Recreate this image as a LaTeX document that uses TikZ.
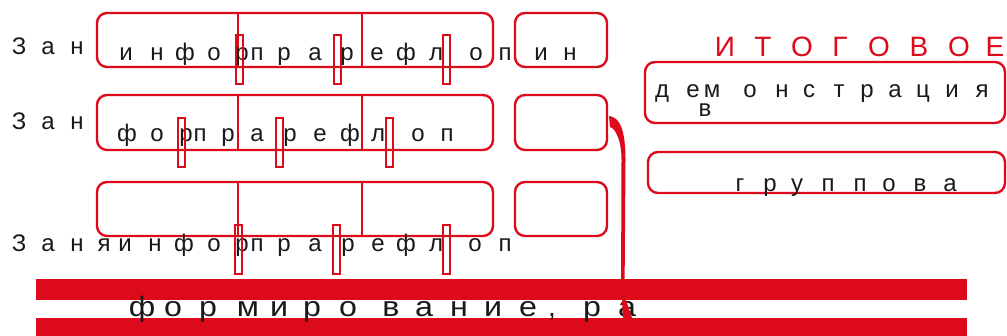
\documentclass[tikz,border=0pt]{standalone}
\usepackage{fontspec}
\usepackage{graphicx}
\usetikzlibrary{calc}
\setmainfont{Liberation Sans}
\definecolor{rd}{RGB}{220,10,26}
\definecolor{ink}{RGB}{25,25,25}
\tikzset{
  box/.style={draw=rd, line width=2.4pt, rounded corners=10pt, inner sep=0pt, outer sep=0pt},
  divl/.style={draw=rd, line width=2pt},
  slot/.style={draw=rd, line width=2pt},
  lt/.style={inner sep=0pt, outer sep=0pt, anchor=base, text=ink, font=\fontsize{24}{24}\selectfont},
  big/.style={lt, font=\fontsize{28}{28}\selectfont},
  ttl/.style={lt, text=rd, font=\fontsize{28}{28}\selectfont},
  bar/.style={fill=rd},
}
\newcommand\letterrow[3]{\foreach \c/\x [count=\i] in {#3} {\node[lt] (#1\i) at (\x,#2) {\c};}}
\newcommand\bigrow[3]{\foreach \c/\x [count=\i] in {#3} {\node[big] (#1\i) at (\x,#2) {\scalebox{1.15}[1]{\c}};}}
\newcommand\ttlrow[3]{\foreach \c/\x [count=\i] in {#3} {\node[ttl] (#1\i) at (\x,#2) {\c};}}
\begin{document}
\begin{tikzpicture}[x=1pt,y=-1pt]
\useasboundingbox (0,0) rectangle (1007,336);
% bars
\fill[bar] (36,279) rectangle (967,300);
\fill[bar] (36,318) rectangle (967,336);
% boxes
\node[box, minimum width=396pt, minimum height=54pt] (b1) at (295,40) {};
\node[box, minimum width=92pt, minimum height=54pt] (s1) at (561,40) {};
\node[box, minimum width=396pt, minimum height=55pt] (b2) at (295,122.5) {};
\node[box, minimum width=92pt, minimum height=55pt] (s2) at (561,122.5) {};
\node[box, minimum width=396pt, minimum height=54pt] (b3) at (295,209) {};
\node[box, minimum width=92pt, minimum height=54pt] (s3) at (561,209) {};
\node[box, minimum width=360pt, minimum height=61pt] (dem) at (825,92.5) {};
\node[box, minimum width=357pt, minimum height=41pt] (grp) at (826.5,172.5) {};
% dividers
\foreach \r in {1,2,3} {
  \draw[divl] (b\r.north -| 238,0) -- (b\r.south -| 238,0);
  \draw[divl] (b\r.north -| 362,0) -- (b\r.south -| 362,0);
}
% texts
\letterrow{za}{55}{З/19,а/48,н/77}
\letterrow{ra}{61}{и/126,н/157,ф/185,о/214,р/242,п/257,р/284,а/315,р/347,е/377,ф/406,л/436,о/476,п/505,и/541,н/570}
\letterrow{zb}{130}{З/19,а/48,н/77}
\letterrow{rb}{142}{ф/127,о/157,р/186,п/200,р/228,а/257,р/290,е/320,ф/350,л/378,о/418,п/447}
\letterrow{rc}{252}{З/19,а/48,н/77,я/104,и/125,н/155,ф/184,о/214,р/242,п/257,р/284,а/315,р/348,е/378,ф/406,л/436,о/475,п/505}
\bigrow{fm}{317}{ф/142,о/173,р/208,м/248,и/279,р/312,о/348,в/391,а/424,н/459,и/493,е/528,р/592,а/627}
\node[big] (fmc) at (552,317) {,};
\ttlrow{it}{57}{И/725,Т/763,О/802,Г/840,О/879,В/919,О/959,Е/995}
\letterrow{dm}{98}{д/662,е/693,м/712,о/750,н/782,с/809,т/839,р/867,а/895,ц/923,и/952,я/982}
\node[lt] (dv) at (705,117) {в};
\letterrow{gr}{192}{г/740,р/770,у/797,п/828,п/860,о/889,в/920,а/950}
% slots
\foreach \x in {236,334,443} {\draw[slot] (\x,35) rectangle ++(6.5,49);}
\foreach \x in {178,276,386} {\draw[slot] (\x,118) rectangle ++(6.5,49);}
\foreach \x in {235,333,443} {\draw[slot] (\x,225) rectangle ++(6.5,49);}
% connector from s2 down to the bar
\coordinate (cs) at ($(s2.east)+(2,-6.5)$);
\fill[rd] (cs) .. controls (619,117) and (625.5,128) .. (625.5,160) -- (624.5,300)
  -- (621,300) -- (621.5,160) .. controls (621.5,141) and (616,129) .. (610,127) -- cycle;
\fill[rd] (622,300) -- (626,300) -- (632,318) -- (623,318) -- cycle;
\end{tikzpicture}
\end{document}
